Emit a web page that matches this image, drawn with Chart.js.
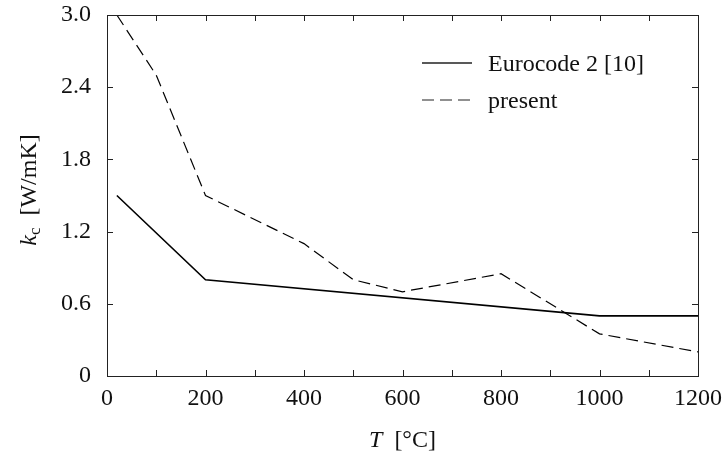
<!DOCTYPE html>
<html>
<head>
<meta charset="utf-8">
<script src="https://cdn.jsdelivr.net/npm/chart.js@4"></script>
<style>
  html, body { margin: 0; padding: 0; background: #fff; }
  #wrap { width: 726px; height: 459px; }
</style>
</head>
<body>
<div id="wrap"><canvas id="chart" width="726" height="459"></canvas></div>
<script>
// thermal conductivity of concrete vs temperature
const euroT = [20, 200, 1000, 1200];
const euroK = [1.5, 0.8, 0.5, 0.5];
const presentT = [20, 100, 200, 400, 500, 600, 800, 1000, 1200];
const presentK = [3.0, 2.5, 1.5, 1.1, 0.8, 0.7, 0.85, 0.35, 0.2];
const seriesNames = ["Eurocode 2 [10]", "present"];
const xTicks = [0, 200, 400, 600, 800, 1000, 1200];
const yTicks = [0, 0.6, 1.2, 1.8, 2.4, 3.0];

const serif = "'Liberation Serif', 'DejaVu Serif', serif";
const fs = 24;
const pts = (xs, ys) => xs.map((x, i) => ({ x: x, y: ys[i] }));

// frame, inward ticks, axis titles and legend
const decor = {
  id: "decor",
  afterDraw(c) {
    const ctx = c.ctx;
    const a = c.chartArea;
    const xs = c.scales.x, ys = c.scales.y;
    ctx.save();
    ctx.strokeStyle = "#222";
    ctx.lineWidth = 1;
    ctx.strokeRect(Math.round(a.left) + 0.5, Math.round(a.top) + 0.5,
      Math.round(a.right - a.left), Math.round(a.bottom - a.top));
    ctx.beginPath();
    for (let v = 0; v <= 1200; v += 100) {
      const px = Math.round(xs.getPixelForValue(v)) + 0.5;
      ctx.moveTo(px, a.bottom); ctx.lineTo(px, a.bottom - 6);
      ctx.moveTo(px, a.top); ctx.lineTo(px, a.top + 6);
    }
    yTicks.forEach(v => {
      const py = Math.round(ys.getPixelForValue(v)) + 0.5;
      ctx.moveTo(a.left, py); ctx.lineTo(a.left + 6, py);
      ctx.moveTo(a.right, py); ctx.lineTo(a.right - 6, py);
    });
    ctx.stroke();

    // x title: T [°C]
    ctx.fillStyle = "#111";
    ctx.textBaseline = "alphabetic";
    ctx.textAlign = "left";
    ctx.font = "italic " + fs + "px " + serif;
    const tW = ctx.measureText("T").width;
    ctx.font = fs + "px " + serif;
    const rest = "  [°C]";
    const rW = ctx.measureText(rest).width;
    let x0 = (a.left + a.right) / 2 - (tW + rW) / 2;
    ctx.font = "italic " + fs + "px " + serif;
    ctx.fillText("T", x0, 447);
    ctx.font = fs + "px " + serif;
    ctx.fillText(rest, x0 + tW, 447);

    // y title: k_c [W/mK]
    ctx.save();
    ctx.translate(36, 190);
    ctx.rotate(-Math.PI / 2);
    ctx.font = "italic " + fs + "px " + serif;
    const kW = ctx.measureText("k").width;
    ctx.font = "17px " + serif;
    const cW = ctx.measureText("c").width;
    ctx.font = fs + "px " + serif;
    const uW = ctx.measureText("  [W/mK]").width;
    let y0 = -(kW + cW + uW) / 2;
    ctx.font = "italic " + fs + "px " + serif;
    ctx.fillText("k", y0, 0);
    ctx.font = "17px " + serif;
    ctx.fillText("c", y0 + kW, 4);
    ctx.font = fs + "px " + serif;
    ctx.fillText("  [W/mK]", y0 + kW + cW, 0);
    ctx.restore();

    // legend
    c.data.datasets.forEach((ds, i) => {
      const ly = 63 + i * 37;
      ctx.beginPath();
      ctx.lineWidth = ds.borderWidth;
      ctx.setLineDash(ds.borderDash || []);
      ctx.moveTo(422, ly); ctx.lineTo(472, ly);
      ctx.stroke();
      ctx.setLineDash([]);
      ctx.font = fs + "px " + serif;
      ctx.fillText(ds.label, 488, ly + 8);
    });
    ctx.restore();
  }
};

new Chart(document.getElementById("chart"), {
  type: "scatter",
  data: {
    datasets: [
      {
        label: seriesNames[0],
        data: pts(euroT, euroK),
        showLine: true,
        borderColor: "#000",
        borderWidth: 1.6,
        pointRadius: 0,
        fill: false
      },
      {
        label: seriesNames[1],
        data: pts(presentT, presentK),
        showLine: true,
        borderColor: "#000",
        borderWidth: 1.2,
        borderDash: [12, 6],
        pointRadius: 0,
        fill: false
      }
    ]
  },
  options: {
    responsive: false,
    animation: false,
    layout: { padding: { top: 15, right: 28, left: 0, bottom: 0 } },
    plugins: { legend: { display: false }, tooltip: { enabled: false } },
    scales: {
      x: {
        type: "linear",
        min: 0,
        max: 1200,
        afterBuildTicks: s => { s.ticks = xTicks.map(v => ({ value: v })); },
        afterFit: s => { s.height = 83; s.paddingLeft = 0; s.paddingRight = 0; },
        grid: { display: false, drawTicks: false },
        border: { display: false },
        ticks: {
          padding: 8,
          color: "#111",
          font: { family: serif, size: fs },
          maxRotation: 0,
          callback: v => String(v)
        }
      },
      y: {
        min: 0,
        max: 3.0,
        afterBuildTicks: s => { s.ticks = yTicks.map(v => ({ value: v })); },
        afterFit: s => { s.width = 107; s.paddingTop = 0; s.paddingBottom = 0; },
        grid: { display: false, drawTicks: false },
        border: { display: false },
        ticks: {
          padding: 16,
          color: "#111",
          font: { family: serif, size: fs },
          callback: v => (v === 0 ? "0" : v.toFixed(1))
        }
      }
    }
  },
  plugins: [decor]
});
</script>
</body>
</html>
